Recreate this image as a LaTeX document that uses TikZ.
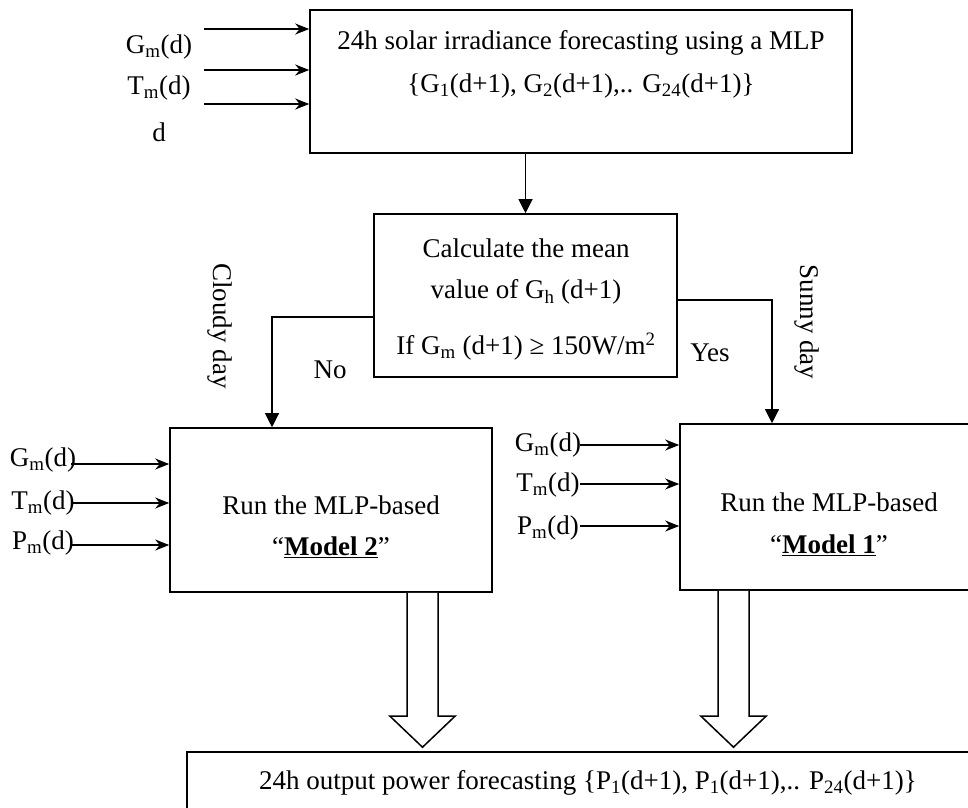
\documentclass[tikz,border=0pt]{standalone}
\usepackage{fontspec}
\setmainfont{Liberation Serif}
\usetikzlibrary{arrows.meta,calc}
\begin{document}
\begin{tikzpicture}[x=1pt,y=-1pt,
  box/.style={draw,line width=1.6pt,inner sep=0pt},
  txt/.style={font=\fontsize{27}{32}\selectfont,inner sep=0pt,anchor=center},
  inarr/.style={line width=1.5pt,-{Stealth[length=14pt,width=11pt]}},
  conn/.style={line width=1.2pt,-{Triangle[length=14pt,width=14pt]}},
  bigarr/.style={line width=1.5pt,fill=white}]
\useasboundingbox (0,0) rectangle (968,807);
\clip (0,0) rectangle (968,807);
\fill[white] (0,0) rectangle (968,807);

% boxes
\node[box,minimum width=542pt,minimum height=143pt] (top) at (581,81.5) {};
\node[box,minimum width=303pt,minimum height=163pt] (mid) at (525.5,295.5) {};
\node[box,minimum width=322pt,minimum height=164pt] (m2) at (331,510) {};
\node[box,minimum width=298pt,minimum height=166pt] (m1) at (829,507) {};
\node[box,minimum width=802pt,minimum height=78pt] (out) at (588,791) {};

% top box text
\node[txt] (t1a) at (581,43) {24h solar irradiance forecasting using a MLP};
\node[txt] (t1b) at (581,86) {\{G\textsubscript{1}(d+1), G\textsubscript{2}(d+1),.. G\textsubscript{24}(d+1)\}};

% top inputs
\node[txt] (i1) at (159,47) {G\textsubscript{m}(d)};
\node[txt] (i2) at (159,88) {T\textsubscript{m}(d)};
\node[txt] (i3) at (159,132) {d};
\coordinate (a1) at (204,29);
\coordinate (a2) at (204,70);
\coordinate (a3) at (204,104);
\draw[inarr] (a1) -- (a1 -| top.west);
\draw[inarr] (a2) -- (a2 -| top.west);
\draw[inarr] (a3) -- (a3 -| top.west);

% middle box text
\node[txt] (t2a) at (526,248) {Calculate the mean};
\node[txt] (t2b) at (526,292) {value of G\textsubscript{h} (d+1)};
\node[txt] (t2c) at (526,347) {If G\textsubscript{m} (d+1) ≥ 150W/m\textsuperscript{2}};

\draw[conn] (top.south -| mid.north) -- (mid.north);

% decision branches
\draw[conn] ([yshift=-21.5pt]mid.west) -| ([xshift=-59pt]m2.north);
\draw[conn] ([yshift=-4.5pt]mid.east) -| ([xshift=-57pt]m1.north);
\node[txt] (no) at (330,370) {No};
\node[txt] (yes) at (710,353) {Yes};
\node[txt,rotate=-90] (cloudy) at (220,326) {Cloudy day};
\node[txt,rotate=-90] (sunny) at (807,322) {Sunny day};

% model 2
\node[txt] (t3a) at (331,505) {Run the MLP-based};
\node[txt] (t3b) at (331,547) {“\underline{\textbf{Model 2}}”};
\node[txt] (l1) at (43,460) {G\textsubscript{m}(d)};
\node[txt] (l2) at (43,503) {T\textsubscript{m}(d)};
\node[txt] (l3) at (43,543) {P\textsubscript{m}(d)};
\coordinate (b1) at (71,464);
\coordinate (b2) at (71,503);
\coordinate (b3) at (71,545);
\draw[inarr] (b1) -- (b1 -| m2.west);
\draw[inarr] (b2) -- (b2 -| m2.west);
\draw[inarr] (b3) -- (b3 -| m2.west);

% model 1
\node[txt] (t4a) at (829,502) {Run the MLP-based};
\node[txt] (t4b) at (829,545) {“\underline{\textbf{Model 1}}”};
\node[txt] (r1) at (548,445) {G\textsubscript{m}(d)};
\node[txt] (r2) at (548,485) {T\textsubscript{m}(d)};
\node[txt] (r3) at (548,528) {P\textsubscript{m}(d)};
\coordinate (c1) at (580,445);
\coordinate (c2) at (580,484);
\coordinate (c3) at (580,526);
\draw[inarr] (c1) -- (c1 -| m1.west);
\draw[inarr] (c2) -- (c2 -| m1.west);
\draw[inarr] (c3) -- (c3 -| m1.west);

% big hollow arrows
\coordinate (L) at (422.5,0);
\coordinate (R) at (733.5,0);
\draw[bigarr] ($(L|-m2.south)+(-15.5,0)$) -- ($(L|-out.north)+(-15.5,-35)$) -- ($(L|-out.north)+(-32.5,-35)$)
  -- ($(L|-out.north)+(0,-4)$) -- ($(L|-out.north)+(32.5,-35)$) -- ($(L|-out.north)+(15.5,-35)$) -- ($(L|-m2.south)+(15.5,0)$);
\draw[bigarr] ($(R|-m1.south)+(-15.5,0)$) -- ($(R|-out.north)+(-15.5,-35)$) -- ($(R|-out.north)+(-32.5,-35)$)
  -- ($(R|-out.north)+(0,-4)$) -- ($(R|-out.north)+(32.5,-35)$) -- ($(R|-out.north)+(15.5,-35)$) -- ($(R|-m1.south)+(15.5,0)$);

% output
\node[txt] (t5) at (588,783) {24h output power forecasting \{P\textsubscript{1}(d+1), P\textsubscript{1}(d+1),.. P\textsubscript{24}(d+1)\}};
\end{tikzpicture}
\end{document}
